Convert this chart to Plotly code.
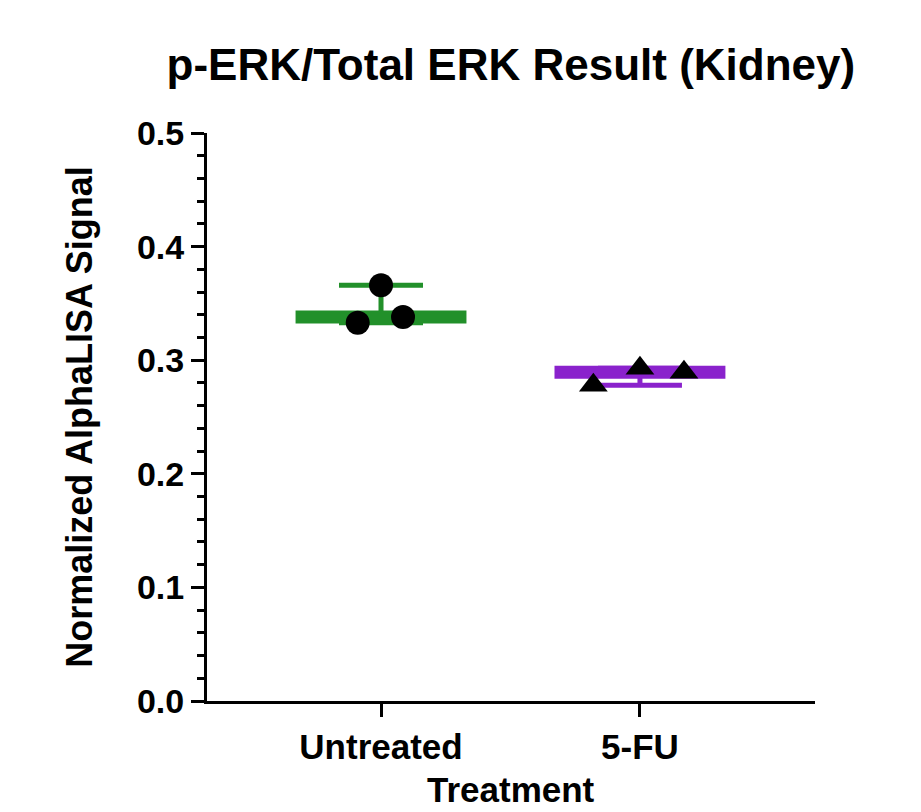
import plotly.graph_objects as go

categories = ["Untreated", "5-FU"]
untreated_values = [0.333, 0.366, 0.338]
fu_values = [0.278, 0.293, 0.2895]
y_tick_labels = ["0.0", "0.1", "0.2", "0.3", "0.4", "0.5"]

group_values = [untreated_values, fu_values]
colors = ["#22902a", "#8a22cc"]
symbols = ["circle", "triangle-up"]
jitters = [[-0.09, 0.0, 0.085], [-0.18, 0.0, 0.17]]

FONT = "Liberation Sans, Arial, sans-serif"

fig = go.Figure()

for i, (name, vals) in enumerate(zip(categories, group_values)):
    s = sorted(vals)
    med = s[1]
    # error bar (range)
    fig.add_trace(go.Scatter(
        x=[i], y=[med], mode="markers",
        marker=dict(size=1, color="rgba(0,0,0,0)"),
        error_y=dict(type="data", symmetric=False,
                     array=[s[-1] - med], arrayminus=[med - s[0]],
                     color=colors[i], thickness=5, width=42),
        showlegend=False, hoverinfo="skip"))
    # median line
    fig.add_trace(go.Scatter(
        x=[i - 0.33, i + 0.33], y=[med, med], mode="lines",
        line=dict(color=colors[i], width=13),
        showlegend=False, hoverinfo="skip"))
    # points
    fig.add_trace(go.Scatter(
        x=[i + j for j in jitters[i]], y=vals, mode="markers",
        marker=dict(symbol=symbols[i], size=24 if i == 0 else 25, color="black"),
        name=name, showlegend=False))

fig.update_layout(
    width=921, height=812,
    paper_bgcolor="white", plot_bgcolor="white",
    margin=dict(l=199, r=114, t=125, b=119),
    title=dict(text="<b>p-ERK/Total ERK Result (Kidney)</b>",
               x=0.546, xanchor="center", y=0.930, yanchor="middle",
               font=dict(family=FONT, size=44, color="black")),
    font=dict(family=FONT, color="black"),
    annotations=[dict(
        text="<b>Treatment</b>", xref="paper", yref="paper",
        x=0.5, y=-0.155, xanchor="center", yanchor="middle",
        showarrow=False, font=dict(family=FONT, size=35, color="black"))],
)

fig.update_xaxes(
    range=[-0.672, 1.676],
    tickvals=[0, 1], ticktext=[f"<b>{c}</b>" for c in categories],
    tickfont=dict(family=FONT, size=35, color="black"),
    ticks="outside", ticklen=13, tickwidth=3, tickcolor="black",
    showline=True, linewidth=3, linecolor="black",
    showgrid=False, zeroline=False, automargin=False,
)

fig.update_yaxes(
    range=[0, 0.5],
    tickvals=[0, 0.1, 0.2, 0.3, 0.4, 0.5],
    ticktext=[f"<b>{t}</b>" for t in y_tick_labels],
    tickfont=dict(family=FONT, size=34, color="black"),
    ticks="outside", ticklen=13, tickwidth=3, tickcolor="black",
    minor=dict(dtick=0.02, tick0=0, ticks="outside", ticklen=7, tickwidth=3, tickcolor="black"),
    showline=True, linewidth=3, linecolor="black",
    showgrid=False, zeroline=False, automargin=False,
    title=dict(text="<b>Normalized AlphaLISA Signal</b>",
               font=dict(family=FONT, size=36, color="black"), standoff=34),
)

fig.write_html("out.html")
